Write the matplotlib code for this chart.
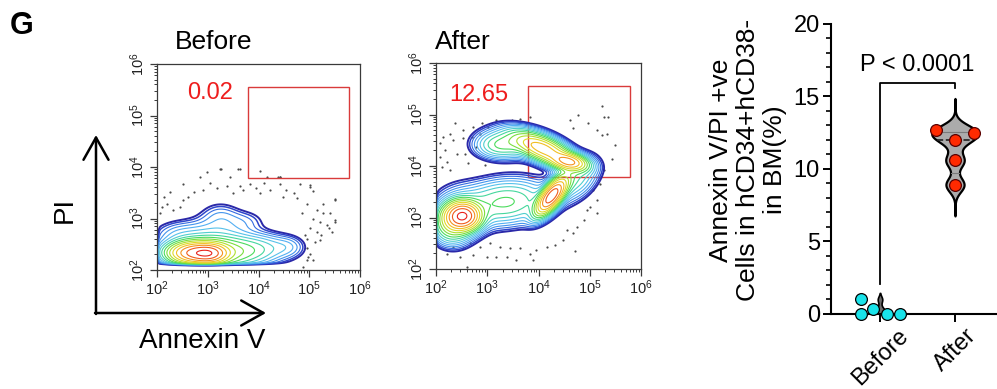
import numpy as np
import matplotlib
matplotlib.use("Agg")
import matplotlib.pyplot as plt
from matplotlib.patches import Rectangle
from matplotlib.colors import LinearSegmentedColormap

plt.rcParams['font.family'] = ['Liberation Sans', 'DejaVu Sans']
plt.rcParams['mathtext.fontset'] = 'custom'
plt.rcParams['mathtext.rm'] = 'Liberation Sans'
plt.rcParams['mathtext.it'] = 'Liberation Sans:italic'

# ---- flow panels: populations in log10 units (centre x/y, major/minor spread, angle, weight)
pre_cx = [2.72, 3.05, 3.20, 4.10, 4.60, 3.25, 2.40, 3.75, 3.10]
pre_cy = [2.33, 2.32, 2.35, 2.45, 2.45, 3.05, 2.70, 2.95, 2.70]
pre_sa = [0.28, 0.20, 0.55, 0.35, 0.20, 0.25, 0.30, 0.25, 0.45]
pre_sb = [0.12, 0.11, 0.18, 0.17, 0.13, 0.17, 0.15, 0.14, 0.20]
pre_th = [0, 0, 0, 0, 0, 0, 0, 0, 0]
pre_w = [1.00, 0.80, 0.30, 0.05, 0.03, 0.03, 0.03, 0.02, 0.05]

post_cx = [2.52, 4.26, 4.60, 4.10, 3.25, 3.35, 2.30, 4.70, 2.45, 3.70]
post_cy = [3.03, 3.42, 4.08, 4.33, 4.40, 3.30, 2.85, 3.75, 3.05, 4.45]
post_sa = [0.19, 0.24, 0.20, 0.35, 0.28, 0.50, 0.20, 0.30, 0.30, 0.45]
post_sb = [0.15, 0.10, 0.09, 0.13, 0.15, 0.25, 0.20, 0.20, 0.30, 0.18]
post_th = [0, 52, -10, -23, 0, 5, 0, 40, 0, -10]
post_w = [1.00, 0.90, 0.50, 0.45, 0.10, 0.12, 0.15, 0.08, 0.06, 0.05]

# scattered single events (log10 Annexin V, log10 PI)
pre_dot_x = [3.24, 3.44, 3.60, 2.85, 3.04, 2.52, 2.72, 2.91, 3.18, 3.37, 3.64, 3.70, 3.83,
             3.96, 4.10, 4.23, 4.39, 4.42, 4.55, 4.69, 4.82, 5.01, 5.08, 4.49, 4.75, 4.95,
             5.15, 5.28, 5.51, 5.41, 5.51, 2.26, 2.13, 2.19, 2.09, 2.06, 2.32, 2.45, 2.52,
             2.62, 3.50, 4.03, 4.85, 5.08, 5.21, 5.34, 5.01, 5.15, 4.95, 5.11, 5.24, 4.95,
             4.98, 5.08, 4.88, 5.44, 4.03, 4.42, 5.51, 5.28, 5.51, 5.38, 5.01, 4.16, 4.42,
             3.64, 2.98, 3.27, 4.92, 5.21, 5.01, 4.95]
pre_dot_y = [3.96, 3.81, 3.96, 3.81, 3.68, 3.67, 3.52, 3.55, 3.59, 3.63, 3.63, 3.55, 3.67,
             3.59, 3.68, 3.56, 3.80, 3.67, 3.55, 3.49, 3.67, 3.65, 3.54, 3.42, 3.39, 3.29,
             3.16, 3.29, 3.37, 3.10, 2.94, 3.52, 3.42, 3.29, 3.23, 3.10, 3.16, 3.23, 3.36,
             3.42, 3.49, 3.49, 3.10, 3.00, 2.94, 2.87, 2.81, 2.74, 2.61, 2.55, 2.68, 2.42,
             2.26, 2.19, 2.06, 2.74, 3.93, 3.81, 3.36, 3.10, 2.97, 2.81, 3.62, 3.80, 3.80,
             3.96, 3.91, 3.96, 2.68, 2.58, 2.32, 2.19]

post_dot_x = [5.23, 4.78, 5.27, 5.36, 4.68, 4.97, 5.14, 5.23, 5.49, 5.33, 4.61, 5.43, 2.37,
              2.53, 2.73, 2.89, 3.02, 3.18, 3.28, 3.48, 3.64, 3.83, 2.27, 2.14, 2.08, 2.18,
              2.34, 2.53, 2.70, 2.86, 2.08, 2.21, 2.40, 2.57, 2.63, 2.79, 2.27, 2.11, 2.96,
              5.14, 5.01, 4.94, 5.14, 4.88, 4.75, 4.55, 4.68, 4.48, 4.32, 4.16, 3.96, 3.83,
              3.64, 3.44, 3.25, 3.05, 2.86, 2.66, 2.53, 2.34, 2.21, 2.47, 2.73, 2.99, 3.38,
              3.57, 3.90, 5.27, 5.20, 5.07, 3.18, 4.71, 2.60]
post_dot_y = [5.17, 4.99, 4.96, 4.96, 4.73, 4.83, 4.70, 4.60, 4.41, 4.63, 4.89, 4.13, 4.84,
              4.70, 4.76, 4.83, 4.76, 4.89, 4.86, 4.89, 4.92, 4.96, 4.63, 4.57, 4.44, 4.31,
              4.50, 4.54, 4.57, 4.63, 4.18, 4.08, 4.24, 4.24, 4.05, 4.37, 3.92, 3.99, 4.02,
              3.34, 3.21, 3.15, 3.08, 2.95, 2.82, 2.76, 2.69, 2.56, 2.46, 2.43, 2.37, 2.30,
              2.40, 2.40, 2.43, 2.50, 2.43, 2.50, 2.40, 2.43, 2.30, 2.24, 2.27, 2.24, 2.24,
              2.17, 2.17, 3.92, 3.66, 3.53, 2.24, 2.34, 2.04]

gate_x = [10**3.80, 10**5.78]
gate_y = [10**3.79, 10**5.56]
gate_pct = ['0.02', '12.65']
titles = ['Before', 'After']

# ---- violin panel
groups = ['Before', 'After']
before_vals = [1.00, 0.00, 0.35, 0.00, 0.00]
before_jit = [-0.26, -0.26, -0.09, 0.09, 0.26]
after_vals = [12.64, 12.48, 11.97, 10.57, 8.90]
after_jit = [-0.26, 0.25, 0.0, 0.0, 0.0]
p_text = 'P < 0.0001'

fig = plt.figure(figsize=(9.97, 3.89), dpi=100)
W, H = 997.0, 389.0


def px_axes(l, t, r, b):
    return fig.add_axes([l / W, 1 - b / H, (r - l) / W, (b - t) / H])


# background layer for the hand-drawn axis arrows and labels
bg = fig.add_axes([0, 0, 1, 1], zorder=-1)
bg.set_xlim(0, W)
bg.set_ylim(H, 0)
bg.axis('off')

cmap = LinearSegmentedColormap.from_list('flow', ['#2a28a8', '#2f4fd6', '#3f8cec', '#55b2f2',
                                                  '#58c8e6', '#44d6a8', '#4cdc52', '#9ae032',
                                                  '#dedc2a', '#f6b822', '#f2701e', '#e8221c'])


def density(cx, cy, sa, sb, th, w, edge):
    gx = np.linspace(1.9, 6.1, 420)
    gy = np.linspace(1.9, 6.1, 420)
    X, Y = np.meshgrid(gx, gy)
    Z = np.zeros_like(X)
    for i in range(len(cx)):
        t = np.deg2rad(th[i])
        dx, dy = X - cx[i], Y - cy[i]
        u = dx * np.cos(t) + dy * np.sin(t)
        v = -dx * np.sin(t) + dy * np.cos(t)
        Z += w[i] * np.exp(-0.5 * (u / sa[i]) ** 2 - 0.5 * (v / sb[i]) ** 2)
    # instrument floor: events pile up at the low end of the scale
    Z *= 1 / (1 + np.exp(-(Y - edge[1]) / 0.012))
    Z *= 1 / (1 + np.exp(-(X - edge[0]) / 0.012))
    return 10 ** X, 10 ** Y, Z / Z.max()


levels = np.geomspace(0.008, 0.9, 16)
lcols = [cmap(i / (len(levels) - 1)) for i in range(len(levels))]
lws = [1.4, 1.1] + [0.8] * (len(levels) - 2)

panels = [
    (157, 64, 360, 270, (pre_cx, pre_cy, pre_sa, pre_sb, pre_th, pre_w), (2.02, 2.12),
     pre_dot_x, pre_dot_y),
    (436, 63, 641, 269, (post_cx, post_cy, post_sa, post_sb, post_th, post_w), (2.01, 2.05),
     post_dot_x, post_dot_y),
]

for k, (l, t, r, b, comp, edge, dxs, dys) in enumerate(panels):
    ax = px_axes(l, t, r, b)
    X, Y, Z = density(*comp, edge)
    ax.contour(X, Y, Z, levels=levels, colors=lcols, linewidths=lws)
    ax.scatter(10 ** np.array(dxs), 10 ** np.array(dys), s=2.5, color='#4a4a4a', lw=0)
    ax.set_xscale('log')
    ax.set_yscale('log')
    ax.set_xlim(1e2, 1e6)
    ax.set_ylim(1e2, 1e6)
    ax.add_patch(Rectangle((gate_x[0], gate_y[0]), gate_x[1] - gate_x[0], gate_y[1] - gate_y[0],
                           fill=False, ec='#d93b3b', lw=1.0))
    ax.text(0.15 if k == 0 else 0.063, 0.86 if k == 0 else 0.845, gate_pct[k],
            transform=ax.transAxes, color='#ee1d1d', fontsize=17, va='center', ha='left')
    for s in ax.spines.values():
        s.set_color('#3a3a3a')
        s.set_linewidth(0.9)
    ax.tick_params(which='major', length=5, width=0.9, labelsize=10.5, colors='#3a3a3a',
                   labelcolor='#222222', pad=2)
    ax.tick_params(which='minor', length=2.5, width=0.7, colors='#3a3a3a')
    ax.tick_params(axis='y', labelrotation=90)
    for lab in ax.get_yticklabels():
        lab.set_va('center')
    fig.text((175 if k == 0 else 435) / W, 1 - 42 / H, titles[k], fontsize=19,
             ha='left', va='center')

# axis arrows
arr = dict(arrowstyle='->,head_length=0.8,head_width=0.45', lw=1.8, color='black',
           mutation_scale=20, shrinkA=0, shrinkB=0)
bg.annotate('', xy=(96, 135), xytext=(96, 314), arrowprops=arr)
bg.annotate('', xy=(266, 313), xytext=(95, 313), arrowprops=arr)
bg.text(65, 210, 'PI', rotation=90, fontsize=20, ha='center', va='center')
bg.text(202, 341, 'Annexin V', fontsize=20, ha='center', va='center')
fig.text(10 / W, 1 - 26 / H, 'G', fontsize=22, fontweight='bold', ha='left', va='center')

# ---- violin plot
vx = px_axes(831, 23.5, 997, 314)
vx.set_xlim(-49 / 75, (166 - 49) / 75)
vx.set_ylim(0, 20)


def kde(vals, h, lo, hi):
    ys = np.linspace(lo, hi, 400)
    d = np.zeros_like(ys)
    for v in vals:
        d += np.exp(-0.5 * ((ys - v) / h) ** 2)
    return ys, d / d.max()


ya, da = kde(after_vals, 0.5, min(after_vals) - 2.15, max(after_vals) + 2.2)
da = da * 0.31
vx.fill_betweenx(ya, 1 - da, 1 + da, color='#ababab', ec='black', lw=1.6, zorder=2)
q1, med, q3 = np.percentile(after_vals, [25, 50, 75], method='weibull')
for q, ls, c, lw in [(q1, '-', '#7a7a7a', 0.8), (q3, '-', '#7a7a7a', 0.8), (med, '--', '#222222', 1.2)]:
    hw = np.interp(q, ya, da)
    vx.plot([1 - hw, 1 + hw], [q, q], ls=ls, color=c, lw=lw, zorder=3)

yb, db = kde(before_vals, 0.22, -0.5, max(before_vals) + 0.45)
db = db * 0.1
vx.fill_betweenx(yb, -db, db, color='#6a6a6a', ec='black', lw=1.2, zorder=2)

vx.scatter(np.array(before_jit), before_vals, s=72, color='#19e3ea', ec='black', lw=0.9,
           zorder=5, clip_on=False)
vx.scatter(1 + np.array(after_jit), after_vals, s=72, color='#ff2a00', ec='#5a0000', lw=0.9,
           zorder=5, clip_on=False)

# significance bracket
vx.plot([0, 0, 1, 1], [2.08, 15.9, 15.9, 15.55], color='black', lw=1.3, clip_on=False)
vx.text(0.5, 17.15, p_text, fontsize=17, ha='center', va='center')

vx.spines['top'].set_visible(False)
vx.spines['right'].set_visible(False)
for s in ['left', 'bottom']:
    vx.spines[s].set_linewidth(1.5)
vx.set_yticks([0, 5, 10, 15, 20])
vx.set_yticks(np.arange(0, 21, 1), minor=True)
vx.tick_params(axis='y', which='major', length=6, width=1.4, labelsize=17, pad=2)
vx.tick_params(axis='y', which='minor', length=3.5, width=1.2)
vx.set_xticks([0, 1])
vx.set_xticklabels(groups, rotation=45, ha='center', va='top', fontsize=17)
vx.tick_params(axis='x', length=6, width=1.4, pad=2)
fig.text(748 / W, 1 - 160 / H, 'Annexin V/PI +ve\nCells in hCD34+hCD38-\nin BM(%)',
         rotation=90, fontsize=19, ha='center', va='center', multialignment='center',
         linespacing=1.15)

fig.savefig('out.png', dpi=100)
